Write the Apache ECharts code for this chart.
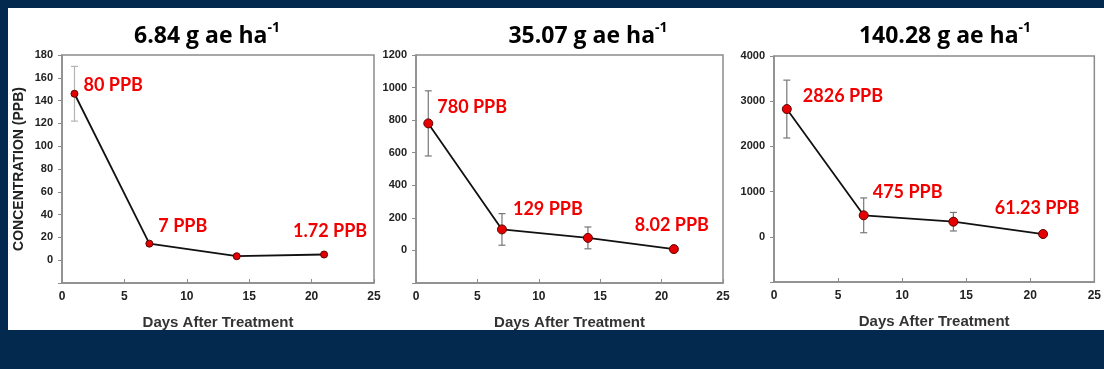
<!DOCTYPE html>
<html>
<head>
<meta charset="utf-8">
<script src="https://cdn.jsdelivr.net/npm/echarts@6/dist/echarts.min.js"></script>
<style>
  html, body { margin: 0; padding: 0; background: #03294f; }
  #sheet { position: absolute; left: 8px; top: 8px; width: 1096px; height: 322px; background: #ffffff; }
  #chart { position: absolute; left: 0; top: 0; width: 1104px; height: 369px; }
</style>
</head>
<body>
<div id="sheet"></div>
<div id="chart"></div>
<script>
// Sampling days after treatment
const days = [1, 7, 14, 21];

// 6.84 g ae/ha
const conc684 = [146, 14.5, 3.5, 5];
const err684 = [24, 0, 0, 0];
const tags684 = ['80 PPB', '7 PPB', '', '1.72 PPB'];

// 35.07 g ae/ha
const conc3507 = [780, 129, 77, 8.02];
const err3507 = [200, 97, 67, 0];
const tags3507 = ['780 PPB', '129 PPB', '', '8.02 PPB'];

// 140.28 g ae/ha
const conc14028 = [2826, 475, 334, 61.23];
const err14028 = [640, 385, 205, 0];
const tags14028 = ['2826 PPB', '475 PPB', '', '61.23 PPB'];

const rateTitles = ['6.84 g ae ha', '35.07 g ae ha', '140.28 g ae ha'];
const xAxisName = 'Days After Treatment';
const yAxisName = 'CONCENTRATION (PPB)';

const AXIS_FONT = '"Liberation Sans", Arial, sans-serif';
const TAG_FONT = 'Lato, "Open Sans", sans-serif';
const TITLE_FONT = '"Open Sans", Lato, sans-serif';
const AXIS_GRAY = '#8c8c8c';

const panels = [
  {
    conc: conc684, err: err684, tags: tags684,
    grid: { left: 62, top: 55, width: 312, height: 228 },
    y: { min: -20, max: 180, interval: 20 },
    titleX: 202, symbolSize: 7, errColor: '#b4b4b4', showName: true,
    tagPlace: [
      { position: 'right', distance: 5, offset: [0, -9] },
      { position: 'right', distance: 5, offset: [0, -17] },
      null,
      { position: 'top', distance: 10, offset: [6, 0] }
    ]
  },
  {
    conc: conc3507, err: err3507, tags: tags3507,
    grid: { left: 416, top: 55, width: 307, height: 228 },
    y: { min: -200, max: 1200, interval: 200 },
    titleX: 583, symbolSize: 9, errColor: '#777777', showName: false,
    tagPlace: [
      { position: 'right', distance: 4, offset: [0, -16] },
      { position: 'right', distance: 6, offset: [0, -20] },
      null,
      { position: 'top', distance: 10, offset: [-2, 0] }
    ]
  },
  {
    conc: conc14028, err: err14028, tags: tags14028,
    grid: { left: 774, top: 56, width: 322, height: 226 },
    y: { min: -1000, max: 4000, interval: 1000 },
    titleX: 940, symbolSize: 9, errColor: '#777777', showName: false,
    tagPlace: [
      { position: 'right', distance: 11, offset: [0, -13] },
      { position: 'right', distance: 4, offset: [0, -23] },
      null,
      { position: 'top', distance: 12, offset: [-6, 0] }
    ]
  }
];

const option = {
  animation: false,
  title: panels.map((p, i) => ({
    text: '{a|' + rateTitles[i] + '}{s|-1}',
    left: p.titleX,
    top: 16,
    textAlign: 'center',
    textStyle: {
      rich: {
        a: { fontFamily: TITLE_FONT, fontWeight: 'bold', fontSize: 23, color: '#000', lineHeight: 30 },
        s: { fontFamily: TITLE_FONT, fontWeight: 'bold', fontSize: 14, color: '#000', lineHeight: 14, verticalAlign: 'top' }
      }
    }
  })),
  grid: panels.map(p => Object.assign({
    show: true, borderColor: AXIS_GRAY, borderWidth: 1.5, backgroundColor: 'transparent'
  }, p.grid)),
  xAxis: panels.map((p, i) => ({
    type: 'value', gridIndex: i, min: 0, max: 25, interval: 5,
    name: xAxisName, nameLocation: 'middle', nameGap: 32,
    nameTextStyle: { fontFamily: AXIS_FONT, fontWeight: 'bold', fontSize: 15, color: '#333' },
    axisLine: { onZero: false, lineStyle: { color: AXIS_GRAY, width: 1.5 } },
    axisTick: { inside: true, length: 4, lineStyle: { color: AXIS_GRAY } },
    axisLabel: { margin: 8, fontFamily: AXIS_FONT, fontWeight: 'bold', fontSize: 12, color: '#222' },
    splitLine: { show: false }
  })),
  yAxis: panels.map((p, i) => ({
    type: 'value', gridIndex: i, min: p.y.min, max: p.y.max, interval: p.y.interval,
    name: p.showName ? yAxisName : '', nameLocation: 'middle', nameGap: 36,
    nameTextStyle: { fontFamily: AXIS_FONT, fontWeight: 'bold', fontSize: 14, color: '#222' },
    axisLine: { onZero: false, lineStyle: { color: AXIS_GRAY, width: 1.5 } },
    axisTick: { inside: false, length: 4, lineStyle: { color: AXIS_GRAY } },
    axisLabel: {
      margin: 9, fontFamily: AXIS_FONT, fontWeight: 'bold', fontSize: 11, color: '#222',
      formatter: v => (v < 0 ? '' : String(v))
    },
    splitLine: { show: false }
  })),
  series: []
};

panels.forEach((p, i) => {
  // Error bars: vertical whisker with caps at mean ± error
  option.series.push({
    type: 'custom', xAxisIndex: i, yAxisIndex: i, z: 1, silent: true,
    data: days.map((d, k) => [d, p.conc[k] - p.err[k], p.conc[k] + p.err[k]]),
    renderItem: (params, api) => {
      const lo = api.value(1), hi = api.value(2);
      if (hi - lo <= 0) return null;
      const top = api.coord([api.value(0), hi]);
      const bot = api.coord([api.value(0), lo]);
      const w = 3.5;
      const st = { stroke: p.errColor, lineWidth: 1.2 };
      return {
        type: 'group',
        children: [
          { type: 'line', shape: { x1: top[0], y1: top[1], x2: bot[0], y2: bot[1] }, style: st },
          { type: 'line', shape: { x1: top[0] - w, y1: top[1], x2: top[0] + w, y2: top[1] }, style: st },
          { type: 'line', shape: { x1: bot[0] - w, y1: bot[1], x2: bot[0] + w, y2: bot[1] }, style: st }
        ]
      };
    }
  });
  // Mean concentration line with point markers and PPB call-outs
  option.series.push({
    type: 'line', xAxisIndex: i, yAxisIndex: i, z: 3,
    symbol: 'circle', symbolSize: p.symbolSize,
    lineStyle: { color: '#111', width: 1.8 },
    itemStyle: { color: '#e40000', borderColor: '#5c0000', borderWidth: 1 },
    data: days.map((d, k) => {
      const item = { value: [d, p.conc[k]] };
      if (p.tags[k]) {
        item.label = Object.assign({
          show: true, formatter: p.tags[k],
          fontFamily: TAG_FONT, fontWeight: 'bold', fontSize: 18, color: '#f20000'
        }, p.tagPlace[k]);
      }
      return item;
    })
  });
});

const chart = echarts.init(document.getElementById('chart'), null, { renderer: 'canvas' });
chart.setOption(option);
</script>
</body>
</html>
